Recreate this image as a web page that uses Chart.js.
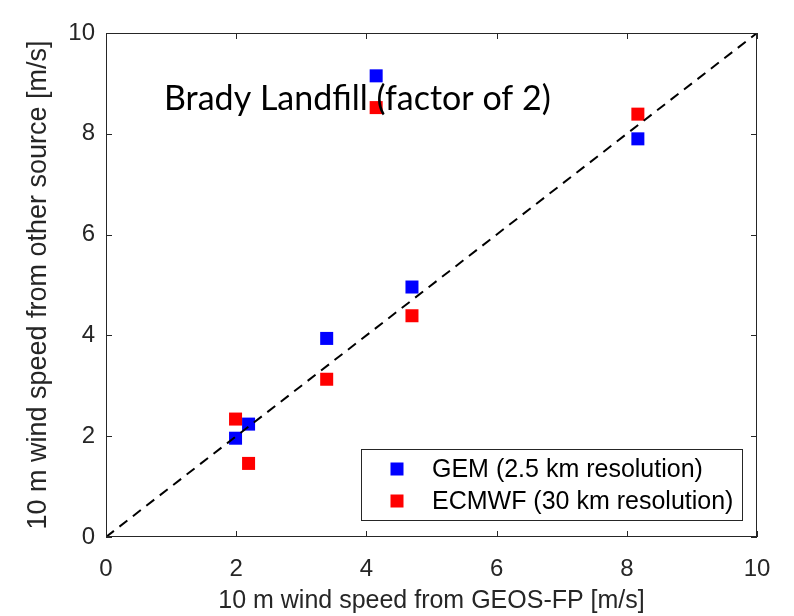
<!DOCTYPE html>
<html>
<head>
<meta charset="utf-8">
<script src="https://cdn.jsdelivr.net/npm/chart.js@4"></script>
<style>
  html, body { margin: 0; padding: 0; background: #fff; }
  #wrap { width: 794px; height: 616px; }
</style>
</head>
<body>
<div id="wrap"><canvas id="c" width="794" height="616"></canvas></div>
<script>
// wind speed at the sites (m/s)
const geosFP = [1.99, 2.19, 3.39, 4.15, 4.70, 8.17];
const gem = [1.96, 2.24, 3.94, 9.15, 4.96, 7.90];
const ecmwf = [2.34, 1.46, 3.13, 8.52, 4.39, 8.39];
const oneToOne = [0, 10];
const tickValues = [0, 2, 4, 6, 8, 10];
const seriesLabels = ["GEM (2.5 km resolution)", "ECMWF (30 km resolution)"];
const note = "Brady Landfill (factor of 2)";

const axisColor = "#262626";

function toPoints(xs, ys) {
  return xs.map((x, i) => ({ x: x, y: ys[i] }));
}

// box round the plot with inward ticks, like matlab
const boxPlugin = {
  id: "box",
  afterDraw(chart) {
    const { ctx, chartArea: a, scales } = chart;
    ctx.save();
    ctx.strokeStyle = axisColor;
    ctx.lineWidth = 1;
    ctx.strokeRect(a.left + 0.5, a.top + 0.5, a.right - a.left - 1, a.bottom - a.top - 1);
    ctx.beginPath();
    tickValues.forEach(v => {
      const px = Math.round(scales.x.getPixelForValue(v)) + 0.5;
      const py = Math.round(scales.y.getPixelForValue(v)) + 0.5;
      ctx.moveTo(px, a.bottom); ctx.lineTo(px, a.bottom - 6);
      ctx.moveTo(px, a.top); ctx.lineTo(px, a.top + 6);
      ctx.moveTo(a.left, py); ctx.lineTo(a.left + 6, py);
      ctx.moveTo(a.right, py); ctx.lineTo(a.right - 6, py);
    });
    ctx.stroke();

    // note text
    ctx.fillStyle = "#000";
    ctx.font = "34px Lato";
    ctx.textBaseline = "alphabetic";
    ctx.fillText(note, 164, 110);

    // legend box
    const lx = 361, ly = 449, lw = 381, lh = 71;
    ctx.fillStyle = "#fff";
    ctx.fillRect(lx, ly, lw, lh);
    ctx.strokeStyle = axisColor;
    ctx.strokeRect(lx + 0.5, ly + 0.5, lw, lh);
    const colors = ["#0000ff", "#ff0000"];
    const rows = [469, 501];
    ctx.font = "25px 'Liberation Sans'";
    ctx.textBaseline = "middle";
    seriesLabels.forEach((s, i) => {
      ctx.fillStyle = colors[i];
      ctx.fillRect(397 - 6.5, rows[i] - 6.5, 13, 13);
      ctx.fillStyle = "#000";
      ctx.fillText(s, 432, rows[i] + 1);
    });
    ctx.restore();
  }
};

const tickFont = { family: "'Liberation Sans'", size: 24 };

new Chart(document.getElementById("c"), {
  type: "scatter",
  data: {
    datasets: [
      {
        type: "line",
        label: "1:1",
        data: toPoints(oneToOne, oneToOne),
        borderColor: "#000",
        borderWidth: 2,
        borderDash: [10, 7],
        pointRadius: 0,
        order: 0
      },
      {
        label: seriesLabels[0],
        data: toPoints(geosFP, gem),
        backgroundColor: "#0000ff",
        borderColor: "#0000ff",
        borderWidth: 0,
        pointStyle: "rect",
        pointRadius: 9.2,
        order: 2
      },
      {
        label: seriesLabels[1],
        data: toPoints(geosFP, ecmwf),
        backgroundColor: "#ff0000",
        borderColor: "#ff0000",
        borderWidth: 0,
        pointStyle: "rect",
        pointRadius: 9.2,
        order: 1
      }
    ]
  },
  options: {
    responsive: false,
    animation: false,
    layout: { padding: { left: 0, top: 33, right: 37, bottom: 0 } },
    plugins: {
      legend: { display: false },
      tooltip: { enabled: false }
    },
    scales: {
      x: {
        type: "linear",
        min: 0,
        max: 10,
        afterFit(scale) { scale.height = 79; },
        afterBuildTicks(scale) { scale.ticks = tickValues.map(v => ({ value: v })); },
        grid: { display: false, drawTicks: false },
        border: { display: false },
        ticks: { color: axisColor, font: tickFont, padding: 18 },
        title: {
          display: true,
          text: "10 m wind speed from GEOS-FP [m/s]",
          color: axisColor,
          font: { family: "'Liberation Sans'", size: 25 },
          padding: { top: 2, bottom: 0 }
        }
      },
      y: {
        type: "linear",
        min: 0,
        max: 10,
        afterFit(scale) { scale.width = 106; },
        afterBuildTicks(scale) { scale.ticks = tickValues.map(v => ({ value: v })); },
        grid: { display: false, drawTicks: false },
        border: { display: false },
        ticks: { color: axisColor, font: tickFont, padding: 11 },
        title: {
          display: true,
          text: "10 m wind speed from other source [m/s]",
          color: axisColor,
          font: { family: "'Liberation Sans'", size: 27 },
          padding: { top: 22, bottom: 0 }
        }
      }
    }
  },
  plugins: [boxPlugin]
});
</script>
</body>
</html>
